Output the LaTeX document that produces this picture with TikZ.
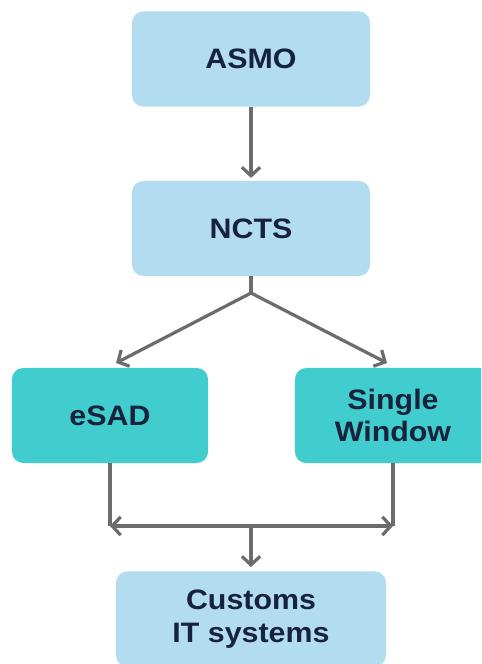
\documentclass[tikz,border=0pt]{standalone}
\usepackage{fontspec}
\setmainfont{Liberation Sans}[FakeStretch=1.08]
\usepackage{tikz}
\usetikzlibrary{arrows.meta, positioning, calc}
\definecolor{boxblue}{HTML}{B2DDF1}
\definecolor{boxteal}{HTML}{41CDCD}
\definecolor{textnavy}{HTML}{17233D}
\definecolor{arrowgray}{HTML}{6C6C6F}

\begin{document}
\begin{tikzpicture}[
  x=0.025cm, y=-0.025cm,
  block/.style={rectangle, rounded corners=8pt, fill=boxblue, minimum width=5.95cm, minimum height=2.375cm, text=textnavy, font=\fontsize{20}{23}\selectfont\bfseries, align=center},
  system/.style={block, fill=boxteal, minimum width=4.9cm},
  link/.style={line width=2.3pt, draw=arrowgray},
  arrow/.style={link, -{Straight Barb[length=6pt, width=13pt]}}
]
  \clip (0,0) rectangle (481,664);
  \fill[white] (0,0) rectangle (481,664);

  % Top chain
  \node[block] (asmo) at (251,59) {ASMO};
  \node[block] (ncts) at (251,228.5) {NCTS};

  % Systems
  \node[system] (esad) at (110,415.5) {eSAD};
  \node[system] (single) at (393,415.5) {Single\\Window};

  % Target
  \node[block, minimum width=6.75cm] (customs) at (251,619) {Customs\\IT systems};

  % Branch points
  \coordinate (split) at (251,293);
  \coordinate (esadin) at (116,363);
  \coordinate (singlein) at (387,363);
  \coordinate (merge) at (251,526);

  % Arrows
  \draw[arrow, shorten >=2pt] (asmo) -- (ncts);
  \draw[link] (ncts.south) -- (split);
  \draw[arrow] (split) -- (esadin);
  \draw[arrow] (split) -- (singlein);
  \draw[link] (esad.south) -- (esad.south |- merge);
  \draw[link] (single.south) -- (single.south |- merge);
  \draw[arrow] (merge) -- (esad.south |- merge);
  \draw[arrow] (merge) -- (single.south |- merge);
  \draw[arrow, shorten >=3pt] (merge) -- (customs);
\end{tikzpicture}
\end{document}
